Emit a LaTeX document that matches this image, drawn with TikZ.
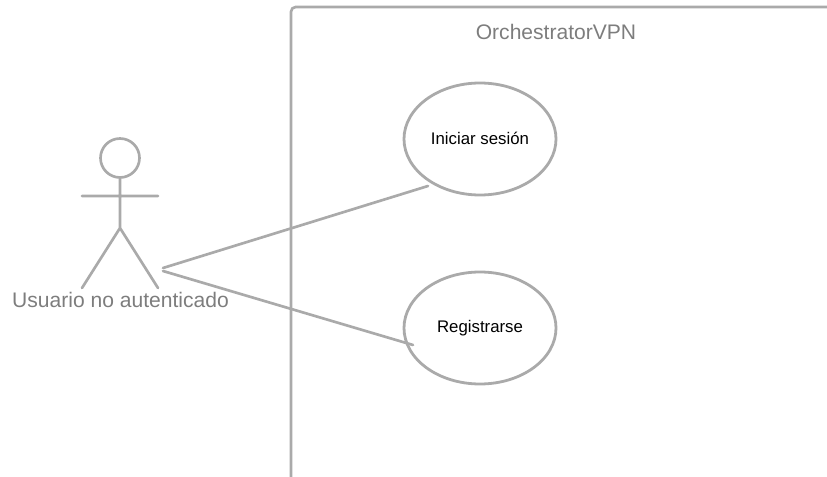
\documentclass[tikz,border=0pt]{standalone}
\usepackage{fontspec}
\setmainfont{Liberation Sans}
\usetikzlibrary{shapes.geometric}
\definecolor{ln}{RGB}{170,170,170}
\definecolor{tx}{RGB}{125,125,125}
\tikzset{
  x=0.75pt,y=-0.75pt,
  edge/.style={draw=ln,line width=2pt,line cap=round,line join=round},
  uc/.style={ellipse,draw=ln,line width=2.1pt,inner sep=0pt,text=black,minimum width=114pt,minimum height=84pt,font=\fontsize{12.6pt}{14pt}\selectfont},
  lab/.style={inner sep=0pt,text=tx,font=\fontsize{15.8pt}{18pt}\selectfont}
}
\begin{document}
\begin{tikzpicture}
\useasboundingbox (0,0) rectangle (827,477);
\draw[edge,rounded corners=3.5pt,line cap=butt] (291,478) -- (291,7) -- (828,7);
\node[lab] (title) at (556,32) {OrchestratorVPN};
\node[uc] (a) at (480,139) {\raisebox{1.5pt}{Iniciar sesión}};
\node[uc] (b) at (480,328) {\raisebox{1.5pt}{Registrarse}};
\draw[edge] (120,158) circle[radius=19.5];
\coordinate (neck) at (120,177.5);
\coordinate (hip) at (120,228);
\coordinate (hl) at (82,196);
\coordinate (hr) at (158,196);
\coordinate (fl) at (82,288);
\coordinate (fr) at (158,288);
\draw[edge] (neck) -- (hip) (hl) -- (hr) (fl) -- (hip) -- (fr);
\node[lab] (actor) at (120.5,300) {Usuario no autenticado};
\coordinate (ja) at (163,268);
\coordinate (jb) at (163,271);
\coordinate (ea) at (428,186);
\coordinate (eb) at (413,345);
\draw[edge] (ja) -- (ea);
\draw[edge] (jb) -- (eb);
\end{tikzpicture}
\end{document}
